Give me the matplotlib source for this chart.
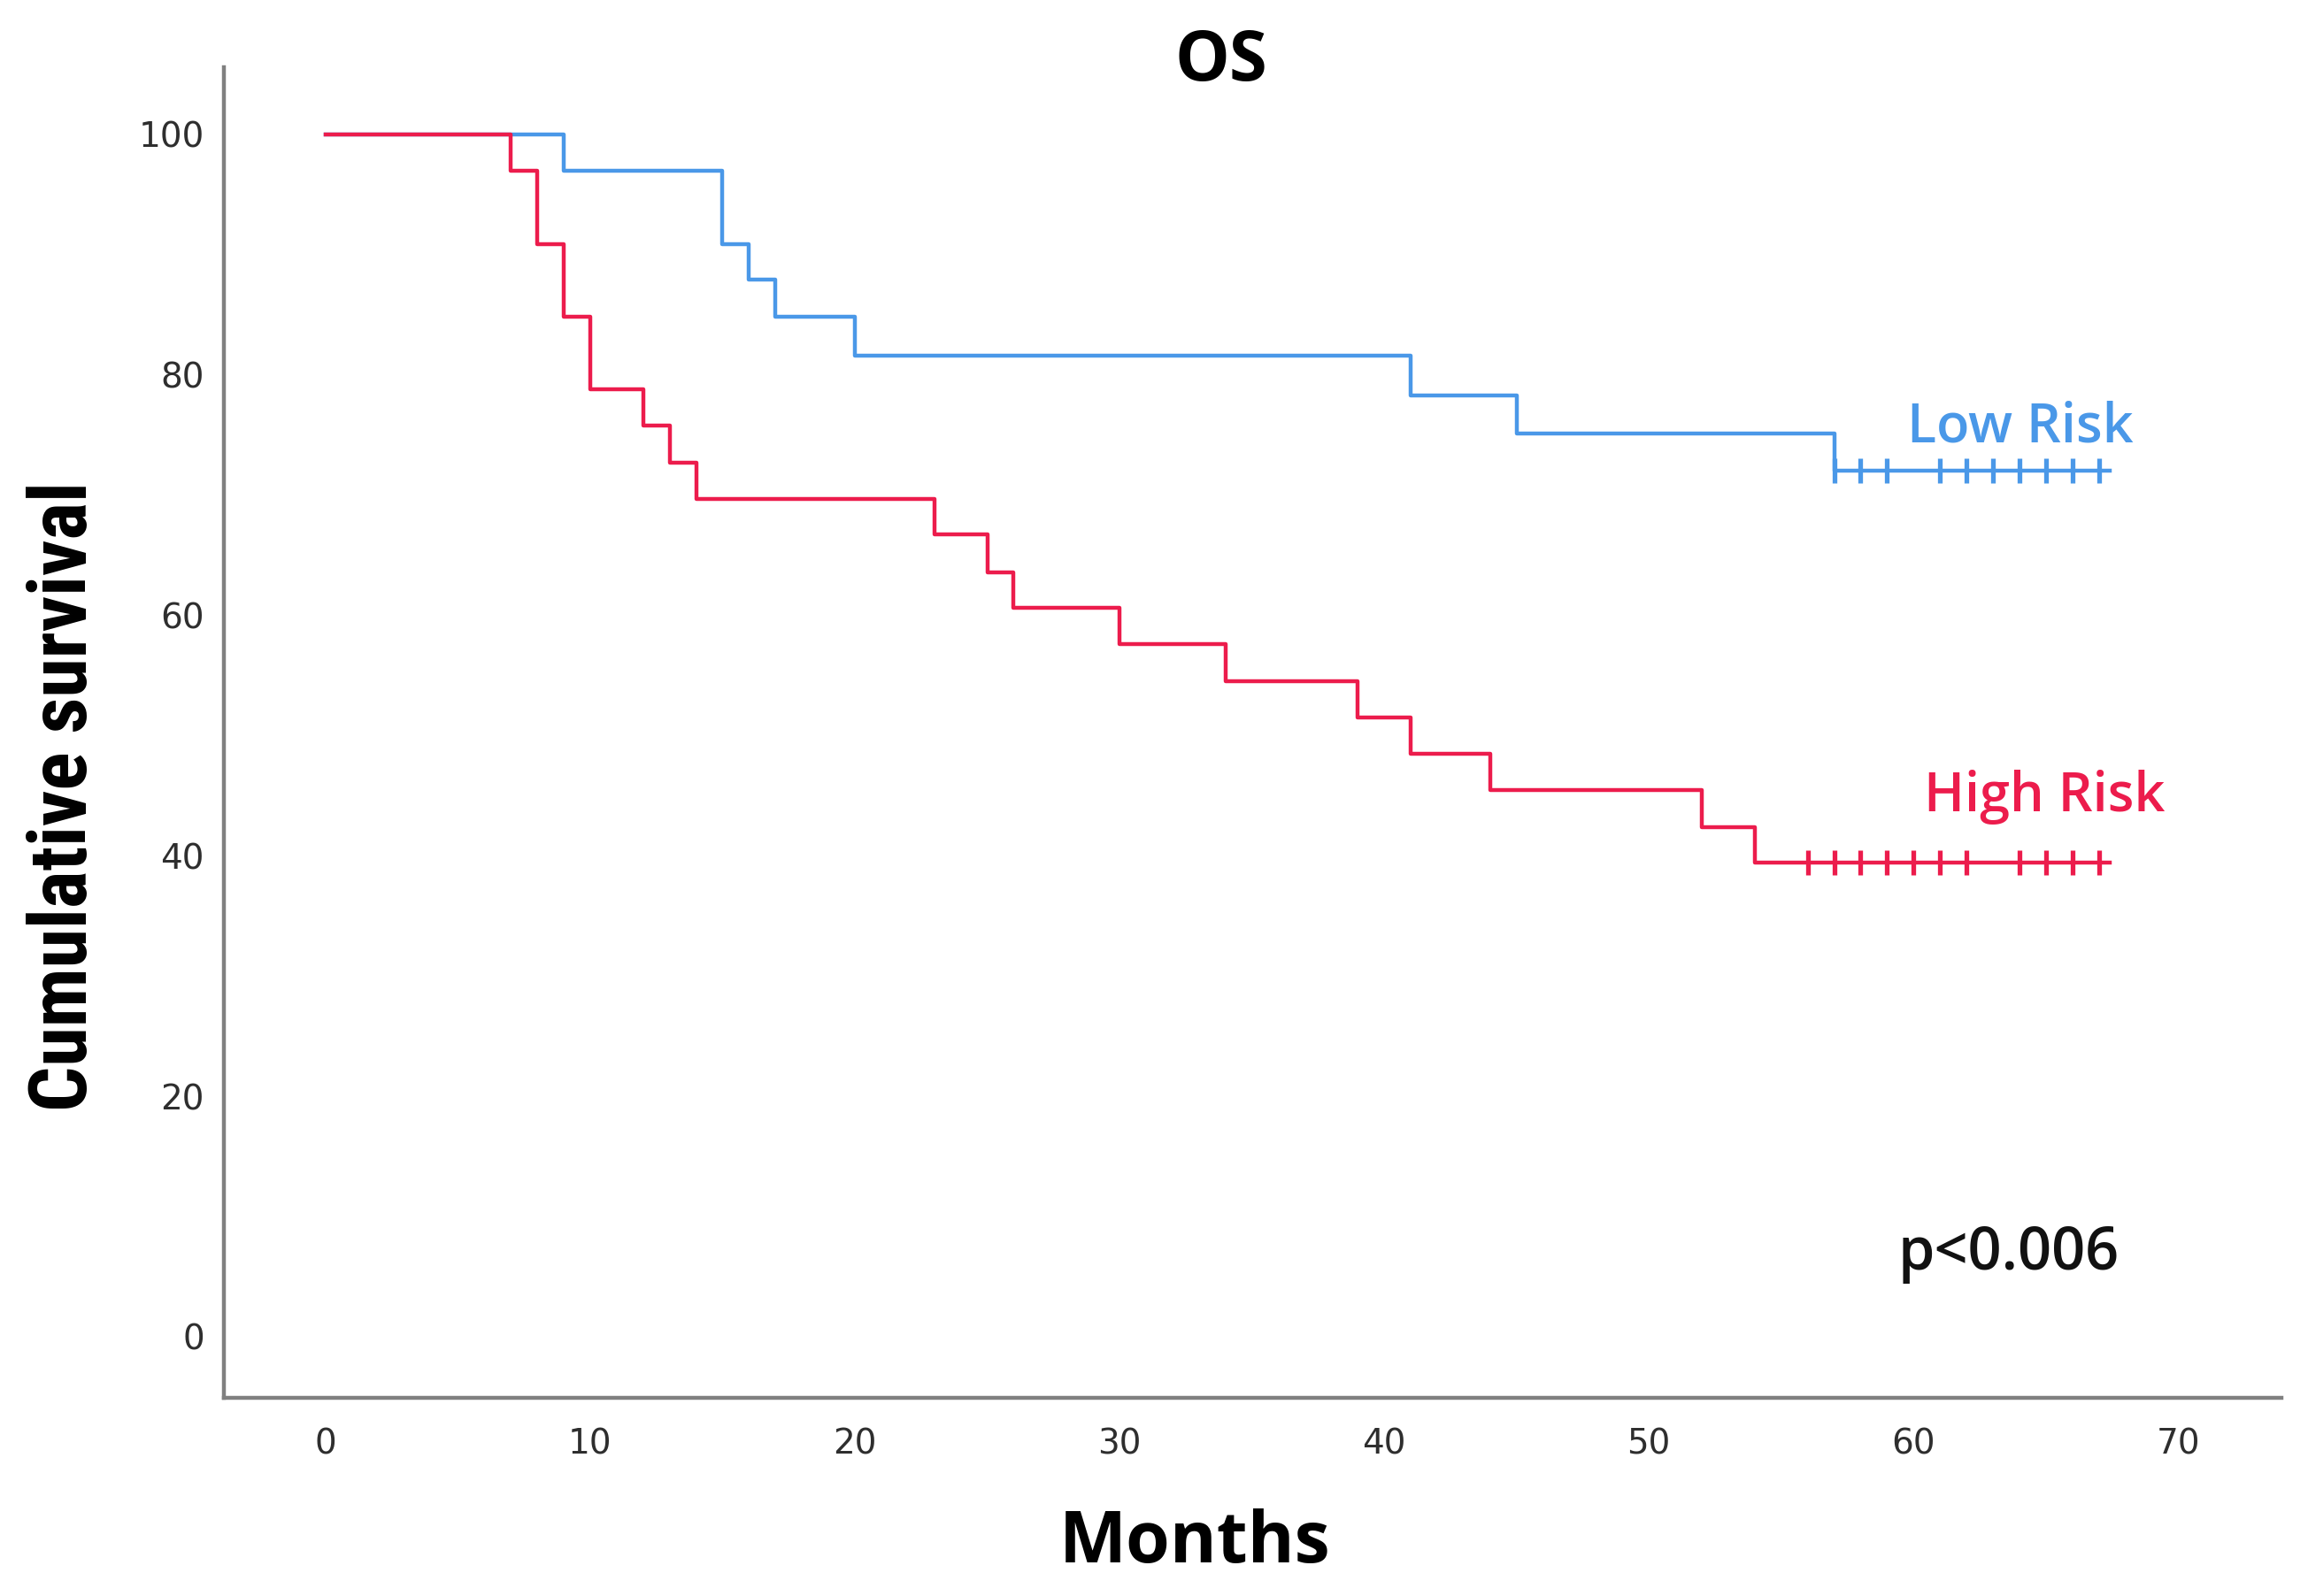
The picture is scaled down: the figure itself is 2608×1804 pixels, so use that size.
import numpy as np
import matplotlib.pyplot as plt

plt.rcParams["font.family"] = ["Open Sans", "DejaVu Sans"]

# Kaplan-Meier steps (months, % surviving)
low_times = [0, 9, 15, 16, 17, 20, 41, 45, 57]
low_surv = [100, 97.0, 90.9, 87.9, 84.8, 81.6, 78.3, 75.1, 72.0]
low_censor = [57, 58, 59, 61, 62, 63, 64, 65, 66, 67]
low_end = 67.4

high_times = [0, 7, 8, 9, 10, 12, 13, 14, 23, 25, 26, 30, 34, 39, 41, 44, 52, 54]
high_surv = [100, 97.0, 90.9, 84.8, 78.8, 75.8, 72.7, 69.7, 66.7, 63.6,
             60.6, 57.6, 54.5, 51.5, 48.5, 45.5, 42.4, 39.4]
high_censor = [56, 57, 58, 59, 60, 61, 62, 64, 65, 66, 67]
high_end = 67.4

x_ticks = [0, 10, 20, 30, 40, 50, 60, 70]
y_ticks = [0, 20, 40, 60, 80, 100]

blue = "#4a98e8"
red = "#ec1c4c"


def km_curve(ax, times, surv, end, censor, color, z):
    xs = list(times) + [end]
    ys = list(surv) + [surv[-1]]
    ax.step(xs, ys, where="post", color=color, lw=1.6, zorder=z)
    idx = np.searchsorted(times, censor, side="right") - 1
    cy = np.asarray(surv)[idx]
    ax.plot(censor, cy, ls="none", marker="|", ms=10, mew=1.9,
            color=color, zorder=z)


fig = plt.figure(figsize=(13.04, 9.02), dpi=200)
ax = fig.add_axes([0.097, 0.124, 0.8915, 0.834])

km_curve(ax, low_times, low_surv, low_end, low_censor, blue, 3)
km_curve(ax, high_times, high_surv, high_end, high_censor, red, 4)

ax.set_xlim(-3.84, 73.9)
ax.set_ylim(-5.1, 105.6)
ax.set_xticks(x_ticks)
ax.set_yticks(y_ticks)
ax.tick_params(length=0, labelsize=14, colors="#2e2e2e")
for lab in ax.get_xticklabels() + ax.get_yticklabels():
    lab.set_family("DejaVu Sans")
ax.tick_params(axis="x", pad=12)
ax.tick_params(axis="y", pad=8)

for side in ["top", "right"]:
    ax.spines[side].set_visible(False)
for side in ["left", "bottom"]:
    ax.spines[side].set_color("#808080")
    ax.spines[side].set_linewidth(1.6)

ax.text(59.75, 74.4, "Low Risk", color=blue, fontsize=22,
        fontweight="semibold", ha="left", va="baseline")
ax.text(60.4, 43.7, "High Risk", color=red, fontsize=22,
        fontweight="semibold", ha="left", va="baseline")
ax.text(59.4, 5.6, "p<0.006", color="#111111", fontsize=24,
        fontweight="semibold", ha="left", va="baseline")

fig.text(0.529, 0.9495, "OS", fontsize=28, fontweight="bold",
         ha="center", va="baseline")
fig.text(0.5176, 0.021, "Months", fontsize=29, fontweight="bold",
         ha="center", va="baseline")
fig.text(0.0375, 0.501, "Cumulative survival", fontsize=32.5,
         fontweight="bold", rotation=90, rotation_mode="anchor",
         ha="center", va="baseline",
         family=["Roboto Condensed", "DejaVu Sans"])

fig.savefig("out.png", dpi=200, facecolor="white")
